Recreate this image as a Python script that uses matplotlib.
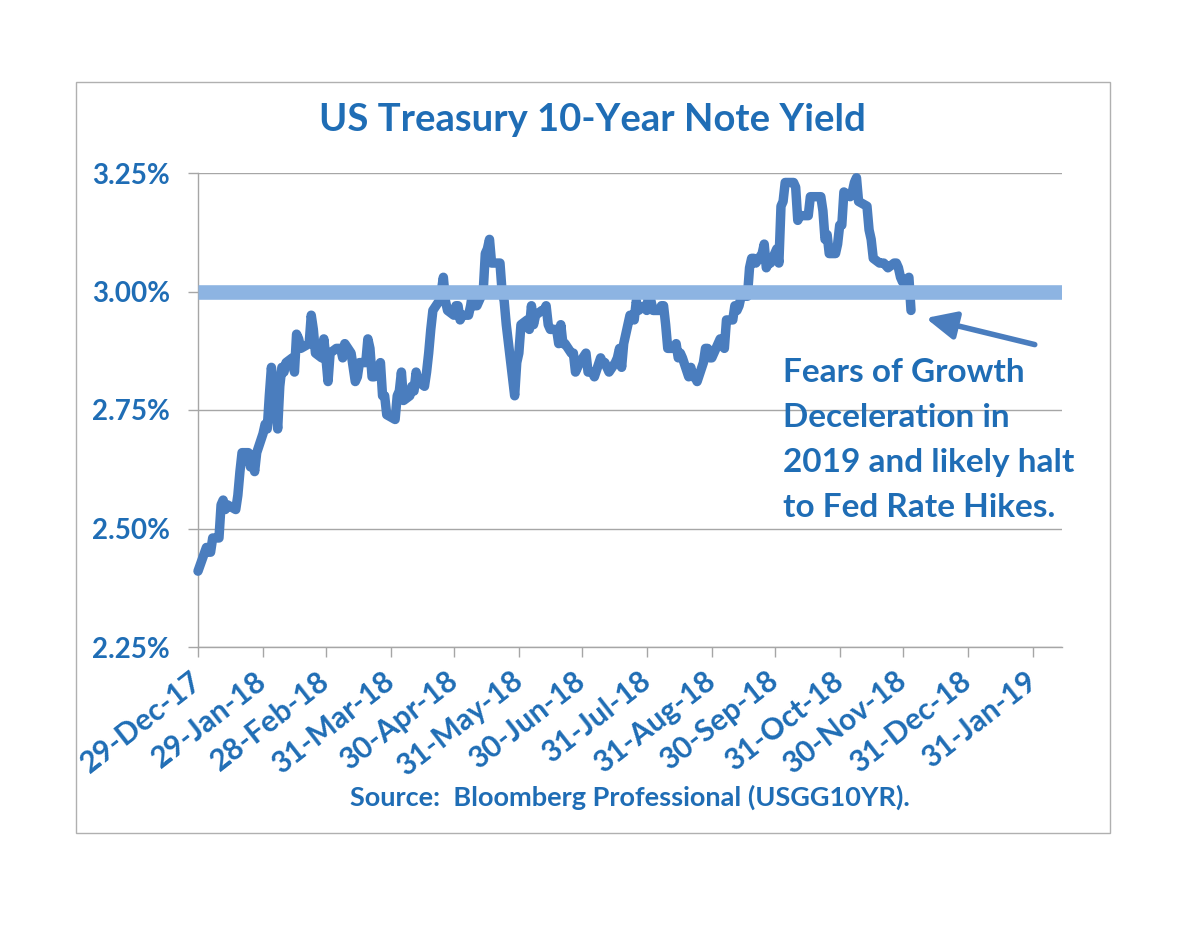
import matplotlib
matplotlib.use("Agg")
import matplotlib.pyplot as plt
from matplotlib.patches import Rectangle
import pandas as pd

plt.rcParams['font.family'] = ['Lato', 'DejaVu Sans']

# ---------------- data ----------------
dates = [
    "2017-12-29",
    "2018-01-02", "2018-01-03", "2018-01-04", "2018-01-05", "2018-01-08", "2018-01-09", "2018-01-10",
    "2018-01-11", "2018-01-12", "2018-01-16", "2018-01-17", "2018-01-18", "2018-01-19", "2018-01-22",
    "2018-01-23", "2018-01-24", "2018-01-25", "2018-01-26", "2018-01-29", "2018-01-30", "2018-01-31",
    "2018-02-01", "2018-02-02", "2018-02-05", "2018-02-06", "2018-02-07", "2018-02-08", "2018-02-09",
    "2018-02-12", "2018-02-13", "2018-02-14", "2018-02-15", "2018-02-16", "2018-02-20", "2018-02-21",
    "2018-02-22", "2018-02-23", "2018-02-26", "2018-02-27", "2018-02-28",
    "2018-03-01", "2018-03-02", "2018-03-05", "2018-03-06", "2018-03-07", "2018-03-08", "2018-03-09",
    "2018-03-12", "2018-03-13", "2018-03-14", "2018-03-15", "2018-03-16", "2018-03-19", "2018-03-20",
    "2018-03-21", "2018-03-22", "2018-03-23", "2018-03-26", "2018-03-27", "2018-03-28", "2018-03-29",
    "2018-04-02", "2018-04-03", "2018-04-04", "2018-04-05", "2018-04-06", "2018-04-09", "2018-04-10",
    "2018-04-11", "2018-04-12", "2018-04-13", "2018-04-16", "2018-04-17", "2018-04-18", "2018-04-19",
    "2018-04-20", "2018-04-23", "2018-04-24", "2018-04-25", "2018-04-26", "2018-04-27", "2018-04-30",
    "2018-05-01", "2018-05-02", "2018-05-03", "2018-05-04", "2018-05-07", "2018-05-08", "2018-05-09",
    "2018-05-10", "2018-05-11", "2018-05-14", "2018-05-15", "2018-05-16", "2018-05-17", "2018-05-18",
    "2018-05-21", "2018-05-22", "2018-05-23", "2018-05-24", "2018-05-25", "2018-05-29", "2018-05-30",
    "2018-05-31",
    "2018-06-01", "2018-06-04", "2018-06-05", "2018-06-06", "2018-06-07", "2018-06-08", "2018-06-11",
    "2018-06-12", "2018-06-13", "2018-06-14", "2018-06-15", "2018-06-18", "2018-06-19", "2018-06-20",
    "2018-06-21", "2018-06-22", "2018-06-25", "2018-06-26", "2018-06-27", "2018-06-28", "2018-06-29",
    "2018-07-02", "2018-07-03", "2018-07-05", "2018-07-06", "2018-07-09", "2018-07-10", "2018-07-11",
    "2018-07-12", "2018-07-13", "2018-07-16", "2018-07-17", "2018-07-18", "2018-07-19", "2018-07-20",
    "2018-07-23", "2018-07-24", "2018-07-25", "2018-07-26", "2018-07-27", "2018-07-30", "2018-07-31",
    "2018-08-01", "2018-08-02", "2018-08-03", "2018-08-06", "2018-08-07", "2018-08-08", "2018-08-09",
    "2018-08-10", "2018-08-13", "2018-08-14", "2018-08-15", "2018-08-16", "2018-08-17", "2018-08-20",
    "2018-08-21", "2018-08-22", "2018-08-23", "2018-08-24", "2018-08-27", "2018-08-28", "2018-08-29",
    "2018-08-30", "2018-08-31",
    "2018-09-04", "2018-09-05", "2018-09-06", "2018-09-07", "2018-09-10", "2018-09-11", "2018-09-12",
    "2018-09-13", "2018-09-14", "2018-09-17", "2018-09-18", "2018-09-19", "2018-09-20", "2018-09-21",
    "2018-09-24", "2018-09-25", "2018-09-26", "2018-09-27", "2018-09-28",
    "2018-10-01", "2018-10-02", "2018-10-03", "2018-10-04", "2018-10-05", "2018-10-09", "2018-10-10",
    "2018-10-11", "2018-10-12", "2018-10-15", "2018-10-16", "2018-10-17", "2018-10-18", "2018-10-19",
    "2018-10-22", "2018-10-23", "2018-10-24", "2018-10-25", "2018-10-26", "2018-10-29", "2018-10-30",
    "2018-10-31",
    "2018-11-01", "2018-11-02", "2018-11-05", "2018-11-06", "2018-11-07", "2018-11-08", "2018-11-09",
    "2018-11-13", "2018-11-14", "2018-11-15", "2018-11-16", "2018-11-19", "2018-11-20", "2018-11-21",
    "2018-11-23", "2018-11-26", "2018-11-27", "2018-11-28", "2018-11-29", "2018-11-30",
    "2018-12-03", "2018-12-04",
]

yields = [
    2.41,
    2.46, 2.45, 2.45, 2.48, 2.48, 2.55, 2.56,
    2.54, 2.55, 2.54, 2.57, 2.62, 2.66, 2.66,
    2.63, 2.65, 2.62, 2.66, 2.70, 2.72, 2.71,
    2.78, 2.84, 2.71, 2.80, 2.84, 2.83, 2.85,
    2.86, 2.83, 2.91, 2.90, 2.88, 2.89, 2.95,
    2.92, 2.87, 2.86, 2.90, 2.86,
    2.81, 2.87, 2.88, 2.88, 2.88, 2.86, 2.89,
    2.87, 2.84, 2.81, 2.82, 2.85, 2.85, 2.90,
    2.88, 2.82, 2.82, 2.85, 2.78, 2.78, 2.74,
    2.73, 2.78, 2.79, 2.83, 2.77, 2.78, 2.80,
    2.79, 2.83, 2.81, 2.80, 2.83, 2.87, 2.92,
    2.96, 2.98, 3.00, 3.03, 2.98, 2.96, 2.95,
    2.97, 2.97, 2.94, 2.95, 2.95, 2.97, 3.00,
    2.97, 2.97, 3.00, 3.08, 3.09, 3.11, 3.06,
    3.06, 3.06, 3.00, 2.98, 2.93, 2.78, 2.85,
    2.87,
    2.93, 2.94, 2.92, 2.97, 2.93, 2.95, 2.96,
    2.96, 2.97, 2.93, 2.92, 2.92, 2.89, 2.93,
    2.89, 2.89, 2.87, 2.87, 2.83, 2.84, 2.85,
    2.87, 2.83, 2.83, 2.82, 2.86, 2.85, 2.85,
    2.84, 2.83, 2.85, 2.86, 2.88, 2.84, 2.89,
    2.95, 2.95, 2.94, 2.98, 2.96, 2.97, 2.96,
    3.00, 2.98, 2.96, 2.96, 2.97, 2.97, 2.93,
    2.88, 2.88, 2.89, 2.86, 2.87, 2.86, 2.82,
    2.84, 2.82, 2.82, 2.81, 2.85, 2.88, 2.88,
    2.86, 2.86,
    2.90, 2.90, 2.88, 2.94, 2.94, 2.97, 2.96,
    2.97, 2.99, 2.99, 3.05, 3.07, 3.07, 3.06,
    3.08, 3.10, 3.05, 3.06, 3.06,
    3.09, 3.06, 3.18, 3.19, 3.23, 3.23, 3.22,
    3.15, 3.16, 3.16, 3.16, 3.20, 3.20, 3.20,
    3.20, 3.17, 3.11, 3.12, 3.08, 3.08, 3.10,
    3.14,
    3.14, 3.21, 3.20, 3.21, 3.23, 3.24, 3.19,
    3.18, 3.13, 3.11, 3.07, 3.06, 3.06, 3.06,
    3.05, 3.06, 3.06, 3.05, 3.03, 3.02,
    3.03, 2.96,
]

reference_level = 3.00

tick_dates = ["2017-12-29", "2018-01-29", "2018-02-28", "2018-03-31", "2018-04-30",
              "2018-05-31", "2018-06-30", "2018-07-31", "2018-08-31", "2018-09-30",
              "2018-10-31", "2018-11-30", "2018-12-31", "2019-01-31"]
tick_labels = ["29-Dec-17", "29-Jan-18", "28-Feb-18", "31-Mar-18", "30-Apr-18",
               "31-May-18", "30-Jun-18", "31-Jul-18", "31-Aug-18", "30-Sep-18",
               "31-Oct-18", "30-Nov-18", "31-Dec-18", "31-Jan-19"]
y_ticks = [2.25, 2.50, 2.75, 3.00, 3.25]
y_labels = ["2.25%", "2.50%", "2.75%", "3.00%", "3.25%"]

title_text = "US Treasury 10-Year Note Yield"
source_text = "Source:  Bloomberg Professional (USGG10YR)."
note_text = "Fears of Growth\nDeceleration in\n2019 and likely halt\nto Fed Rate Hikes."
arrow_tip = ("2018-12-11", 2.944)
arrow_tail = ("2019-02-01", 2.888)

# ---------------- style ----------------
TEXT_BLUE = "#1F6DB5"
LINE_BLUE = "#4A7DBE"
REF_BLUE = "#8DB4E2"
GRID = "#A6A6A6"

W, H = 1200, 927
fig = plt.figure(figsize=(W / 100, H / 100), dpi=100)
fig.patch.set_facecolor("white")

ax = fig.add_axes([198 / W, 1 - 647 / H, 864 / W, 474 / H])

x = pd.to_datetime(dates)
ax.plot(x, yields, color=LINE_BLUE, lw=6.8, solid_joinstyle="round",
        solid_capstyle="round", zorder=3, clip_on=False)
ax.axhline(reference_level, color=REF_BLUE, lw=10.5, zorder=4, solid_capstyle="butt")

ax.set_xlim(pd.Timestamp("2017-12-29"), pd.Timestamp("2019-02-14"))
ax.set_ylim(2.25, 3.25)

ax.set_yticks(y_ticks)
ax.set_yticklabels(y_labels)
ax.set_xticks(pd.to_datetime(tick_dates))
ax.set_xticklabels(tick_labels, rotation=38, ha="right", va="center", rotation_mode="anchor")

ax.grid(axis="y", color=GRID, lw=1.0, zorder=1)
ax.set_axisbelow(True)
for side in ("top", "right"):
    ax.spines[side].set_visible(False)
for side in ("left", "bottom"):
    ax.spines[side].set_color(GRID)
    ax.spines[side].set_linewidth(1.0)

ax.tick_params(axis="y", length=7, width=1, color=GRID, pad=13,
               labelsize=20, labelcolor=TEXT_BLUE)
ax.tick_params(axis="x", length=7, width=1, color=GRID, pad=15,
               labelsize=21.5, labelcolor=TEXT_BLUE)
for lab in ax.get_xticklabels() + ax.get_yticklabels():
    lab.set_fontweight("bold")

fig.text(592 / W, 1 - 120 / H, title_text, ha="center", va="center",
         fontsize=27.5, fontweight="bold", color=TEXT_BLUE)
fig.text(630 / W, 1 - 797 / H, source_text, ha="center", va="center",
         fontsize=19.5, fontweight="bold", color=TEXT_BLUE)
fig.text(783 / W, 1 - 358 / H, note_text, ha="left", va="top",
         fontsize=24, fontweight="bold", color=TEXT_BLUE, linespacing=1.67)

ax.annotate("", xy=(pd.Timestamp(arrow_tip[0]), arrow_tip[1]),
            xytext=(pd.Timestamp(arrow_tail[0]), arrow_tail[1]),
            arrowprops=dict(arrowstyle="-|>,head_length=0.9,head_width=0.42",
                            lw=4, color=LINE_BLUE, mutation_scale=20,
                            shrinkA=0, shrinkB=0),
            annotation_clip=False, zorder=5)

fig.patches.append(Rectangle((76 / W, 1 - 833 / H), (1110 - 76) / W, (833 - 82) / H,
                             transform=fig.transFigure, fill=False,
                             edgecolor="#B0B0B0", lw=1.0))

fig.savefig("out.png", dpi=100, facecolor="white")
